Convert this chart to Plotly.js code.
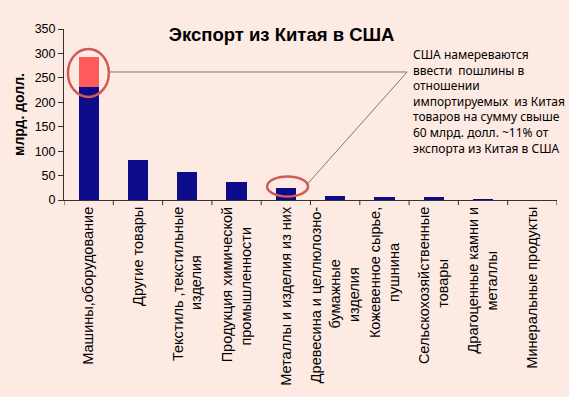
<!DOCTYPE html>
<html>
<head>
<meta charset="utf-8">
<script src="https://cdn.plot.ly/plotly-3.0.1.min.js"></script>
<style>html,body{margin:0;padding:0;background:#FCEAE3;}#chart{width:569px;height:397px;}</style>
</head>
<body>
<div id="chart"></div>
<script>
const categories = [
  "Машины,оборудование",
  "Другие товары",
  "Текстиль ,текстильные<br>изделия",
  "Продукция химической<br>промышленности",
  "Металлы и изделия из них",
  "Древесина и целлюлозно-<br>бумажные<br>изделия",
  "Кожевенное сырье,<br>пушнина",
  "Сельскохозяйственные<br>товары",
  "Драгоценные камни и<br>металлы",
  "Минеральные продукты"
];
const exportValues = [232, 81, 58, 36, 25, 9, 7, 7, 2, 0.3];
const tariffValues = [60, 0, 0, 0, 0, 0, 0, 0, 0, 0];
const yTicks = [0, 50, 100, 150, 200, 250, 300, 350];
const chartTitle = "Экспорт из Китая в США";
const yTitle = "млрд. долл.";
const noteText = "США намереваются<br>ввести  пошлины в<br>отношении<br>импортируемых  из Китая<br>товаров на сумму свыше<br>60 млрд. долл. ~11% от<br>экспорта из Китая в США";

const idx = categories.map((c, i) => i);

// center the lines of multi-line rotated tick labels by padding shorter lines
const TICK_FONT_SIZE = 14.5;
const TICK_FONT = 'Liberation Sans';
const ctx = document.createElement('canvas').getContext('2d');
ctx.font = TICK_FONT_SIZE + 'px "' + TICK_FONT + '"';
const nb = '\u00A0';
const nbW = ctx.measureText(nb).width || TICK_FONT_SIZE * 0.28;
const tickText = categories.map(label => {
  const lines = label.split('<br>');
  if (lines.length < 2) return label;
  const widths = lines.map(l => ctx.measureText(l).width);
  const maxW = Math.max(...widths);
  return lines.map((l, i) => l + nb.repeat(Math.max(0, Math.round((maxW - widths[i]) / 2 / nbW)))).join('<br>');
});

const data = [
  {type: 'bar', x: idx, y: exportValues, marker: {color: '#0C0C8A'}, width: 0.41, hoverinfo: 'none'},
  {type: 'bar', x: idx, y: tariffValues, marker: {color: '#FF5B5B'}, width: 0.41, hoverinfo: 'none'}
];

const layout = {
  width: 569, height: 397,
  paper_bgcolor: '#FCEAE3', plot_bgcolor: '#FCEAE3',
  margin: {l: 64, r: 12, t: 29, b: 197},
  showlegend: false,
  barmode: 'stack',
  font: {family: 'Liberation Sans, Arial, sans-serif', color: '#000'},
  title: {text: '<b>' + chartTitle + '</b>', font: {size: 18.5, family: 'Liberation Sans, Arial, sans-serif', color: '#000'},
          x: 0.495, xanchor: 'center', y: 0.912, yanchor: 'middle', xref: 'container', yref: 'container'},
  xaxis: {
    type: 'linear', range: [-0.5, 9.5], tickmode: 'array',
    tickvals: idx, ticktext: tickText, tickangle: -90,
    showline: true, linecolor: '#333', linewidth: 1,
    ticks: '', showgrid: false, zeroline: false,
    tickfont: {size: TICK_FONT_SIZE, family: TICK_FONT + ', Arial, sans-serif'},
    fixedrange: true
  },
  yaxis: {
    range: [0, 350], tickmode: 'array', tickvals: yTicks,
    showline: true, linecolor: '#333', linewidth: 1,
    ticks: 'outside', ticklen: 5, tickcolor: '#333',
    showgrid: false, zeroline: false,
    tickfont: {size: 12.5},
    title: {text: '<b>' + yTitle + '</b>', font: {size: 14}, standoff: 6}
  },
  shapes: [
    ...Array.from({length: categories.length + 1}, (_, i) => ({
      type: 'line', xref: 'x', yref: 'paper', x0: i - 0.5, x1: i - 0.5, y0: 0, y1: -0.03,
      line: {color: '#333', width: 1}
    })),
    {type: 'circle', xref: 'x', yref: 'y', x0: -0.42, x1: 0.41, y0: 211, y1: 309,
     line: {color: '#D45856', width: 2.5}},
    {type: 'circle', xref: 'x', yref: 'y', x0: 3.62, x1: 4.45, y0: 7, y1: 48,
     line: {color: '#D45856', width: 2.5}},
    {type: 'line', xref: 'x', yref: 'y', x0: 0.43, x1: 6.46, y0: 262, y1: 262,
     line: {color: '#7a7a7a', width: 1}},
    {type: 'line', xref: 'x', yref: 'y', x0: 6.46, x1: 4.43, y0: 262, y1: 32,
     line: {color: '#7a7a7a', width: 1}}
  ],
  annotations: [
    {text: noteText, xref: 'paper', yref: 'paper', x: 0.703, y: 0.915,
     xanchor: 'left', yanchor: 'top', align: 'left', showarrow: false,
     font: {size: 12, family: 'Noto Sans, DejaVu Sans, sans-serif', color: '#000'}}
  ]
};

Plotly.newPlot('chart', data, layout, {displayModeBar: false, staticPlot: true});
</script>
</body>
</html>
